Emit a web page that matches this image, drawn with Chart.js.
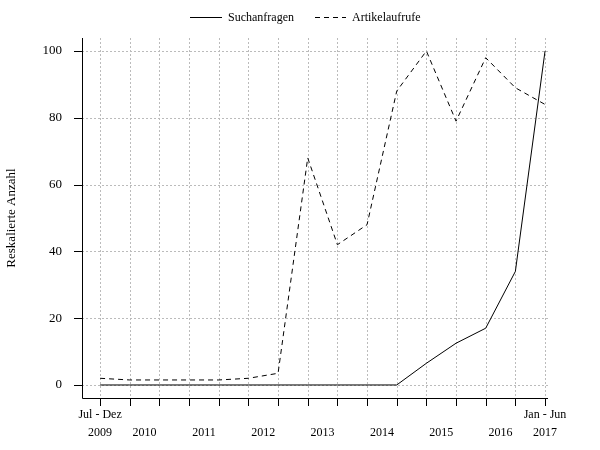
<!DOCTYPE html>
<html>
<head>
<meta charset="utf-8">
<script src="https://cdn.jsdelivr.net/npm/chart.js@4"></script>
<style>
  body { margin: 0; background: #fff; }
  #wrap { width: 600px; height: 450px; }
</style>
</head>
<body>
<div id="wrap"><canvas id="chart"></canvas></div>
<script>
// half-year periods, Jul-Dez 2009 .. Jan-Jun 2017
const periods = [0, 1, 2, 3, 4, 5, 6, 7, 8, 9, 10, 11, 12, 13, 14, 15];
const suchanfragen = [0, 0, 0, 0, 0, 0, 0, 0, 0, 0, 0, 6.5, 12.5, 17, 34, 100];
const artikel = [2, 1.5, 1.5, 1.5, 1.5, 2, 3.5, 68, 42, 48, 88, 100, 79, 98, 89, 84];
// year labels: position (in periods) and text
const yearPos = [0, 1.5, 3.5, 5.5, 7.5, 9.5, 11.5, 13.5, 15];
const yearText = ['2009', '2010', '2011', '2012', '2013', '2014', '2015', '2016', '2017'];
const yTicks = [0, 20, 40, 60, 80, 100];

const serif = '"Liberation Serif", "DejaVu Serif", serif';

// draws dotted grid, solid axes, tick marks, x labels and the legend
const axesPlugin = {
  id: 'axesPlugin',
  beforeDatasetsDraw(chart) {
    const { ctx, chartArea: a, scales: { x, y } } = chart;
    ctx.save();
    ctx.strokeStyle = '#bbbbbb';
    ctx.lineWidth = 1;
    ctx.setLineDash([2, 2]);
    periods.forEach(p => {
      const px = Math.round(x.getPixelForValue(p)) + 0.5;
      ctx.beginPath(); ctx.moveTo(px, a.top); ctx.lineTo(px, a.bottom); ctx.stroke();
    });
    yTicks.forEach(v => {
      const py = Math.round(y.getPixelForValue(v)) + 0.5;
      ctx.beginPath(); ctx.moveTo(a.left, py); ctx.lineTo(a.right, py); ctx.stroke();
    });
    ctx.setLineDash([]);
    ctx.strokeStyle = '#000';
    ctx.beginPath();
    ctx.moveTo(a.left + 0.5, a.top); ctx.lineTo(a.left + 0.5, a.bottom + 0.5);
    ctx.lineTo(a.right, a.bottom + 0.5);
    ctx.stroke();
    periods.forEach(p => {
      const px = Math.round(x.getPixelForValue(p)) + 0.5;
      ctx.beginPath(); ctx.moveTo(px, a.bottom); ctx.lineTo(px, a.bottom + 8); ctx.stroke();
    });
    yTicks.forEach(v => {
      const py = Math.round(y.getPixelForValue(v)) + 0.5;
      ctx.beginPath(); ctx.moveTo(a.left - 8, py); ctx.lineTo(a.left, py); ctx.stroke();
    });
    ctx.fillStyle = '#000';
    ctx.font = '12px ' + serif;
    ctx.textAlign = 'center';
    ctx.textBaseline = 'middle';
    yearPos.forEach((p, i) => {
      ctx.fillText(yearText[i], x.getPixelForValue(p), a.bottom + 35);
    });
    ctx.fillText('Jul - Dez', x.getPixelForValue(0), a.bottom + 17);
    ctx.fillText('Jan - Jun', x.getPixelForValue(15), a.bottom + 17);

    // legend
    const ly = 17.5;
    ctx.textAlign = 'left';
    ctx.beginPath(); ctx.moveTo(190, ly); ctx.lineTo(222, ly); ctx.stroke();
    ctx.fillText(chart.data.datasets[0].label, 228, ly);
    ctx.setLineDash([5, 4]);
    ctx.beginPath(); ctx.moveTo(315, ly); ctx.lineTo(346, ly); ctx.stroke();
    ctx.setLineDash([]);
    ctx.fillText(chart.data.datasets[1].label, 352, ly);
    ctx.restore();
  }
};

new Chart(document.getElementById('chart'), {
  type: 'line',
  data: {
    datasets: [
      {
        label: 'Suchanfragen',
        data: periods.map((p, i) => ({ x: p, y: suchanfragen[i] })),
        borderColor: '#000', borderWidth: 1, pointRadius: 0, tension: 0
      },
      {
        label: 'Artikelaufrufe',
        data: periods.map((p, i) => ({ x: p, y: artikel[i] })),
        borderColor: '#000', borderWidth: 1, borderDash: [5, 4], pointRadius: 0, tension: 0
      }
    ]
  },
  options: {
    responsive: true,
    maintainAspectRatio: false,
    animation: false,
    layout: { padding: { top: 38, right: 52, left: 0, bottom: 0 } },
    plugins: {
      legend: { display: false },
      tooltip: { enabled: false }
    },
    scales: {
      x: {
        type: 'linear', min: -0.61, max: 15.1,
        grid: { display: false }, border: { display: false },
        ticks: { display: false },
        afterFit: s => { s.height = 52; }
      },
      y: {
        min: -3.9, max: 103.9,
        afterBuildTicks: s => { s.ticks = yTicks.map(v => ({ value: v })); },
        grid: { display: false }, border: { display: false },
        ticks: { color: '#000', padding: 12, font: { family: serif, size: 13 } },
        title: { display: true, text: 'Reskalierte Anzahl', color: '#000', font: { family: serif, size: 13 }, padding: { bottom: 14 } },
        afterFit: s => { s.width = 82; }
      }
    }
  },
  plugins: [axesPlugin]
});
</script>
</body>
</html>
